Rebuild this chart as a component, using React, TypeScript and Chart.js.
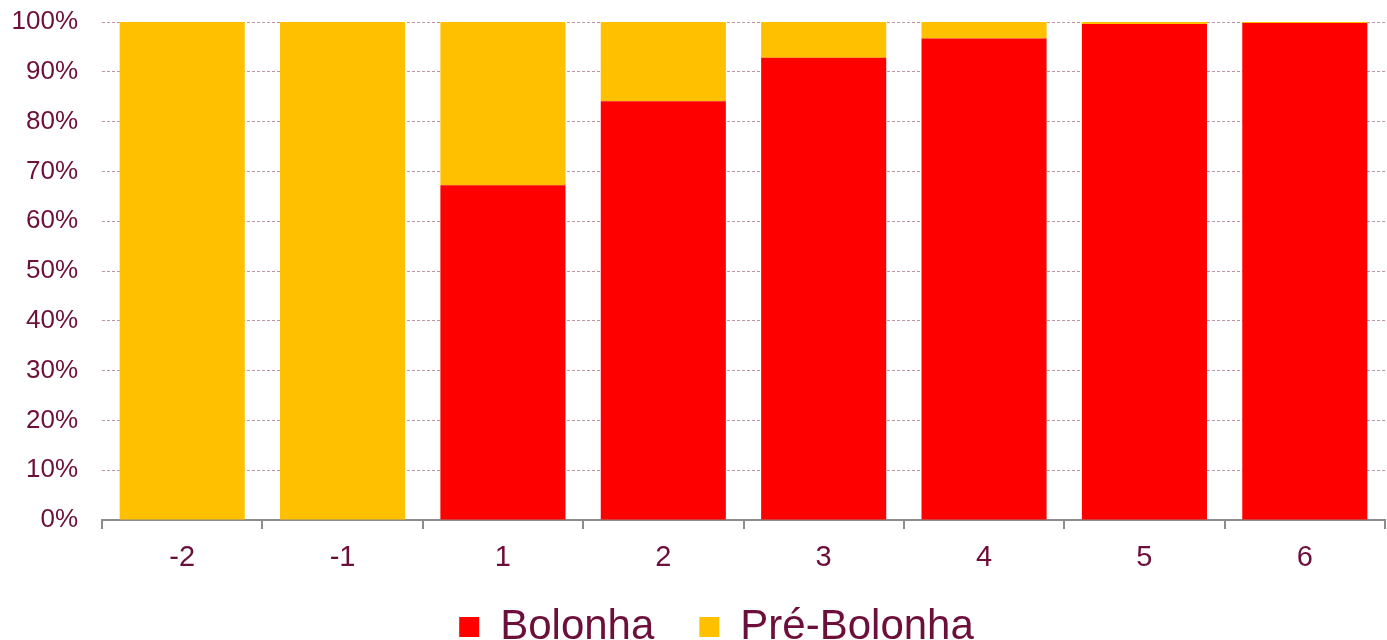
import React, { useEffect, useRef } from "react";
import { Chart, registerables } from "chart.js";

Chart.register(...registerables);

const categories = ["-2", "-1", "1", "2", "3", "4", "5", "6"];
const bolonha = [0, 0, 67.2, 84.1, 92.8, 96.7, 99.6, 99.8];
const preBolonha = [100, 100, 32.8, 15.9, 7.2, 3.3, 0.4, 0.2];
const yTicks = [0, 10, 20, 30, 40, 50, 60, 70, 80, 90, 100];

const TEXT = "#6d0f3b";
const FONT = "'Liberation Sans', Arial, sans-serif";

const shiftLegend = {
  id: "shiftLegend",
  afterLayout(chart: any) {
    const l = chart.legend;
    if (!l) return;
    const dx = 24;
    const dy = -22;
    l.left += dx;
    l.right += dx;
    l.top += dy;
    l.bottom += dy;
  },
};

export default function App() {
  const ref = useRef<HTMLCanvasElement>(null);
  useEffect(() => {
    if (!ref.current) return;
    const chart = new Chart(ref.current, {
      type: "bar",
      data: {
        labels: categories,
        datasets: [
          { label: "Bolonha", data: bolonha, backgroundColor: "#FF0000", borderWidth: 0 },
          { label: "Pré-Bolonha", data: preBolonha, backgroundColor: "#FFC000", borderWidth: 0 },
        ],
      },
      plugins: [shiftLegend],
      options: {
        animation: false,
        responsive: false,
        maintainAspectRatio: false,
        layout: { padding: { top: 22, right: 2, left: 0, bottom: -40 } },
        datasets: { bar: { categoryPercentage: 1, barPercentage: 0.78 } },
        plugins: {
          tooltip: { enabled: false },
          legend: {
            position: "bottom",
            labels: {
              color: TEXT,
              font: { family: FONT, size: 42 },
              boxWidth: 20,
              boxHeight: 20,
              padding: 45,
            },
          },
        },
        scales: {
          x: {
            stacked: true,
            afterFit: (s: any) => {
              s.height = 63;
              s.paddingLeft = 0;
              s.paddingRight = 0;
            },
            grid: {
              offset: true,
              drawOnChartArea: false,
              drawTicks: true,
              tickLength: 9,
              color: "#8c8c8c",
              lineWidth: 2,
            },
            border: { display: true, color: "#8c8c8c", width: 2 },
            ticks: { color: TEXT, font: { family: FONT, size: 29 }, padding: 12 },
          },
          y: {
            stacked: true,
            min: 0,
            max: 100,
            afterFit: (s: any) => {
              s.width = 102;
              s.paddingTop = 0;
              s.paddingBottom = 0;
            },
            afterBuildTicks: (s: any) => {
              s.ticks = yTicks.map((v) => ({ value: v }));
            },
            grid: {
              drawTicks: false,
              color: "rgba(140,60,95,0.55)",
              lineWidth: 1,
            },
            border: { display: false, dash: [3, 2] },
            ticks: {
              color: TEXT,
              font: { family: FONT, size: 26 },
              padding: 24,
              callback: (v: any) => v + "%",
            },
          },
        },
      },
    });
    return () => chart.destroy();
  }, []);
  return (
    <div style={{ position: "absolute", left: 0, top: 0, width: 1387, height: 640, background: "#fff" }}>
      <canvas ref={ref} width={1387} height={640} style={{ width: 1387, height: 640 }} />
    </div>
  );
}
